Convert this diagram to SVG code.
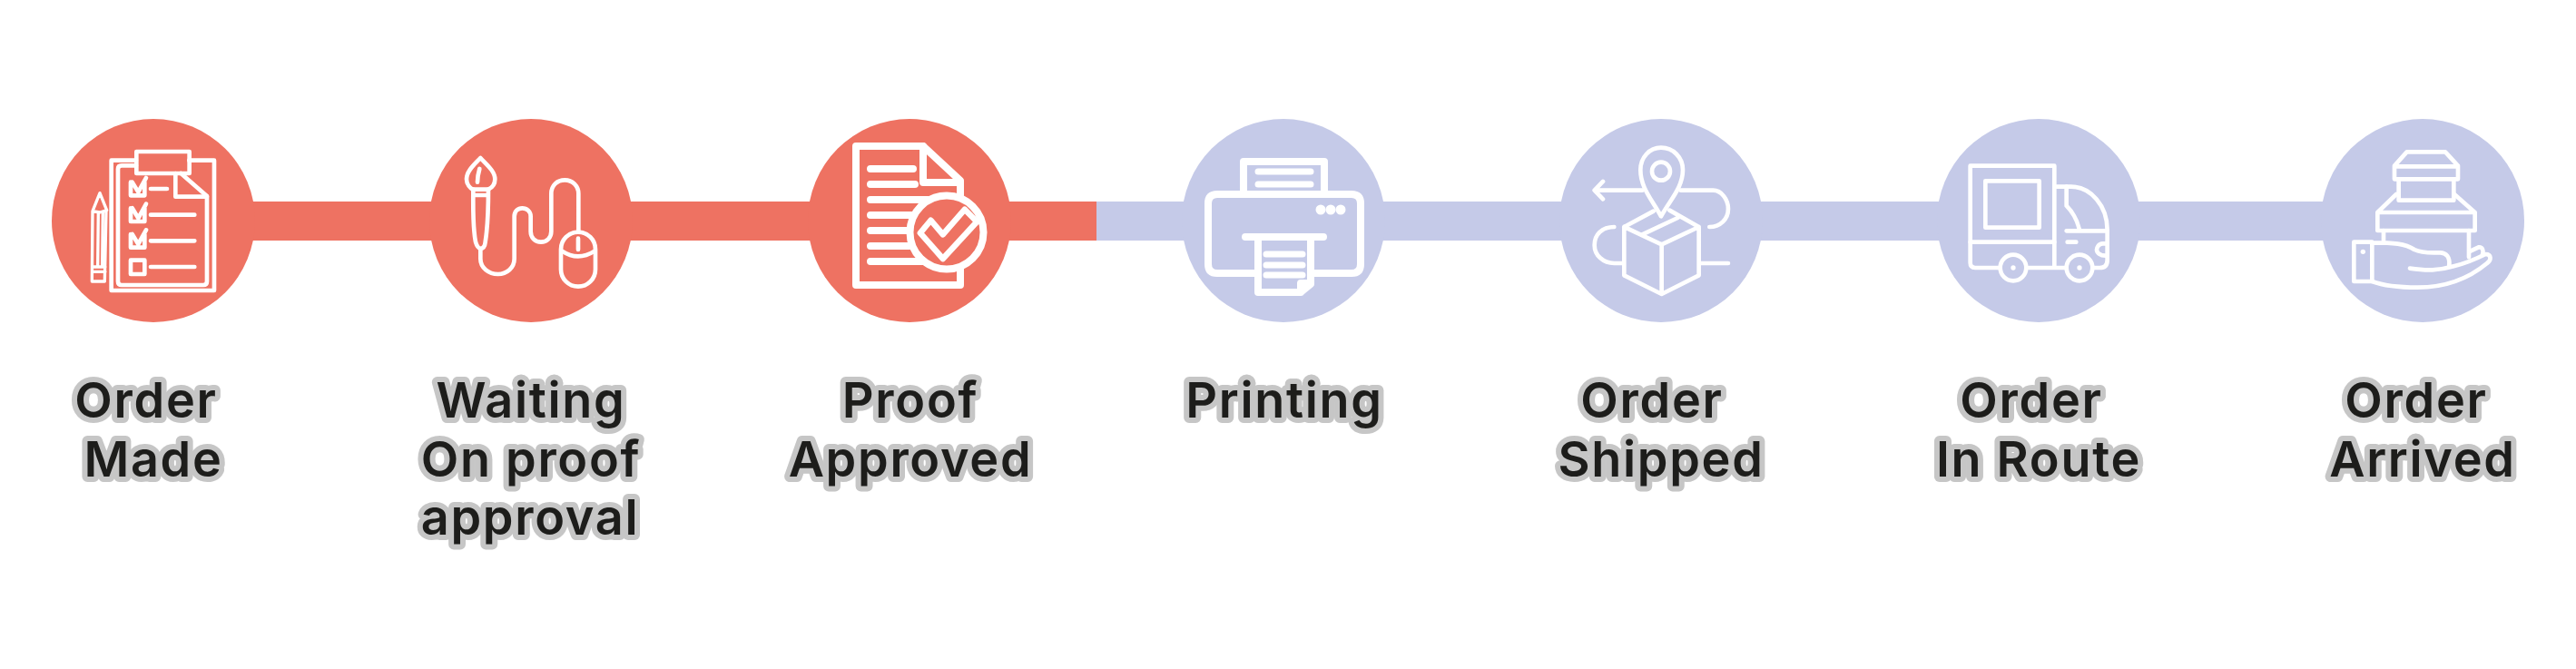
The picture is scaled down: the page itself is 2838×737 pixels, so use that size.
<svg xmlns="http://www.w3.org/2000/svg" width="2838" height="737" viewBox="0 0 2838 737">
<style>
.red{fill:#ee7262}
.blue{fill:#c5cae8}
.ic{fill:none;stroke:#fff;stroke-linecap:round;stroke-linejoin:round}
.z{stroke-width:14}
.lb{font-family:Inter,"Liberation Sans",sans-serif;font-weight:600;font-size:54px;letter-spacing:1.7px;fill:#1d1d1b;stroke:#c6c6c6;stroke-width:12px;stroke-linejoin:round;paint-order:stroke;text-anchor:middle}
</style>
<rect width="2838" height="737" fill="#fff"/>
<g id="connectors">
<rect class="red" x="169" y="222" width="1039" height="43"/>
<rect class="blue" x="1208" y="222" width="1461" height="43"/>
</g>
<g id="node-order-made">
<circle class="red" cx="169" cy="243" r="112"/>
<g class="ic z" transform="translate(40 110) scale(.3333)">
<path d="M330 200H248V630H588V200H505"/>
<path d="M330 217H282Q270 217 270 229V600Q270 612 282 612H552Q564 612 564 600V318L478 243"/>
<path d="M460 243V320H564"/>
<rect x="331" y="171" width="175" height="72"/>
<path d="M358 272V316H312V272M317 272L337 305L363 258M378 294H432"/>
<path d="M358 358V402H312V358M317 358L337 391L363 344M378 380H523"/>
<path d="M358 444V488H312V444M317 444L337 477L363 430M378 466H523"/>
<rect x="312" y="530" width="46" height="46"/><path d="M378 552H523"/>
<path stroke-width="10" d="M210 308L233 365L210 372L186 368ZM186 368L184 600H226L231 366M205 375L203 550M220 372L218 550M186 552H228M186 568H228"/>
</g>
<text class="lb" x="161" y="460">Order</text><text class="lb" x="169" y="525">Made</text>
</g>
<g id="node-waiting">
<circle class="red" cx="585" cy="243" r="112"/>
<g class="ic z" transform="translate(450 110) scale(.3333)">
<path d="M238 192C220 212 192 235 192 262C192 280 205 292 212 296H264C278 290 286 278 286 262C286 235 256 212 238 192Z"/>
<path d="M235 228C230 245 228 260 228 272"/>
<path d="M214 296C214 360 212 420 222 470Q228 490 238 492Q252 490 254 470C262 420 264 360 264 296M214 315H264"/>
<path d="M238 492V525C238 555 265 576 296 576C325 576 350 555 350 525V385C350 368 362 358 376 358C392 358 404 370 404 385V435C404 455 418 470 438 470C458 470 472 455 472 435V310C472 282 492 265 517 265C542 265 562 285 562 310V435"/>
<rect x="504" y="437" width="114" height="180" rx="57"/>
<path d="M508 500Q560 535 615 500M561 458V495"/>
</g>
<text class="lb" x="585" y="460">Waiting</text><text class="lb" x="585" y="525">On proof</text><text class="lb" x="584" y="589">approval</text>
</g>
<g id="node-proof">
<circle class="red" cx="1002" cy="243" r="112"/>
<g class="ic" stroke-width="8">
<path d="M1058 215V199L1017 161H943V314H1058V295"/>
<path d="M1017 161V201H1058"/>
<path d="M959 186H1006M959 203H1008M959 220H1022M959 237H1006M959 254H999M959 271H1002M959 288H1017"/>
<circle class="red" style="stroke:#fff" cx="1043" cy="256" r="40.5"/>
<path stroke-width="6.5" d="M1025.4 242.7L1038.8 258.3L1062.9 230.7L1076.3 244.3L1038.8 285L1013.8 256.7Z"/>
</g>
<text class="lb" x="1003" y="460">Proof</text><text class="lb" x="1003" y="525">Approved</text>
</g>
<g id="node-printing">
<circle class="blue" cx="1414" cy="243" r="112"/>
<g class="ic" stroke-width="8">
<path d="M1370 212V178H1459V212"/>
<path d="M1386 301H1341Q1331 301 1331 291V224Q1331 214 1341 214H1489Q1499 214 1499 224V291Q1499 301 1489 301H1444"/>
<path d="M1372 261H1458"/>
<path d="M1386 261V322H1433L1444 313V261M1433 322V312H1444"/>
<path stroke-width="7" d="M1386 189H1444M1386 203H1444M1395 280H1435M1395 292H1435M1395 303H1435"/>
<g fill="#fff" stroke="none"><circle cx="1455" cy="231" r="5.5"/><circle cx="1466" cy="231" r="5.5"/><circle cx="1477" cy="231" r="5.5"/></g>
</g>
<text class="lb" x="1415" y="460">Printing</text>
</g>
<g id="node-shipped">
<circle class="blue" cx="1830" cy="243" r="112"/>
<g class="ic z" transform="translate(1680 110) scale(.3333)">
<path d="M450 385C420 330 382 290 382 232C382 190 412 158 450 158C490 158 522 190 522 232C522 290 480 330 450 385Z"/>
<circle cx="450" cy="236" r="30"/>
<path d="M388 299H232M258 270L230 299L258 328"/>
<path d="M515 299H622C650 299 672 330 672 360C672 395 645 420 610 420"/>
<path d="M295 420C255 420 230 445 230 480C230 515 260 540 295 540H325M580 540H672"/>
<path d="M425 368L328 420V580L452 642L575 580V420L478 365M328 420L452 478L575 420M452 478V642M388 445L505 390"/>
</g>
<text class="lb" x="1820" y="460">Order</text><text class="lb" x="1830" y="525">Shipped</text>
</g>
<g id="node-in-route">
<circle class="blue" cx="2246" cy="243" r="112"/>
<g class="ic z" transform="translate(2100 110) scale(.3333)">
<path d="M305 555H228Q212 555 212 538V218H490V548"/>
<rect x="262" y="268" width="178" height="154"/>
<path d="M212 470H490"/>
<path d="M490 287H545C610 287 665 350 665 430V530Q665 555 640 555H620M405 555H525"/>
<path d="M530 287V350C550 370 565 395 573 430M530 433H665M533 470H562"/>
<path d="M660 475H650C635 475 630 490 630 495C630 505 640 515 660 515"/>
<circle cx="354" cy="555" r="43"/><circle cx="573" cy="555" r="43"/>
<circle cx="354" cy="555" r="8" fill="#fff" stroke="none"/><circle cx="573" cy="555" r="8" fill="#fff" stroke="none"/>
</g>
<text class="lb" x="2238" y="460">Order</text><text class="lb" x="2246" y="525">In Route</text>
</g>
<g id="node-arrived">
<circle class="blue" cx="2669" cy="243" r="112"/>
<g class="ic z" transform="translate(2540 110) scale(.3333)">
<path d="M294 262V218L335 172H462L504 218V262ZM294 220H504"/>
<path d="M308 262V332H490V262"/>
<path d="M300 312L238 372V432H560V372L492 312M238 372H560"/>
<path d="M258 432V470M540 432V520"/>
<path d="M160 470H220V600H160ZM220 472C290 472 330 475 360 495C385 508 420 505 445 505C465 505 478 520 475 548"/>
<circle cx="190" cy="502" r="8" fill="#fff" stroke="none"/>
<path d="M345 557C400 565 440 565 490 550C530 540 565 525 595 510C615 510 615 530 600 540C540 590 470 620 370 620C310 620 260 615 220 600"/>
<path d="M545 500L572 487C585 485 590 500 585 510"/>
</g>
<text class="lb" x="2662" y="460">Order</text><text class="lb" x="2669" y="525">Arrived</text>
</g>
</svg>
